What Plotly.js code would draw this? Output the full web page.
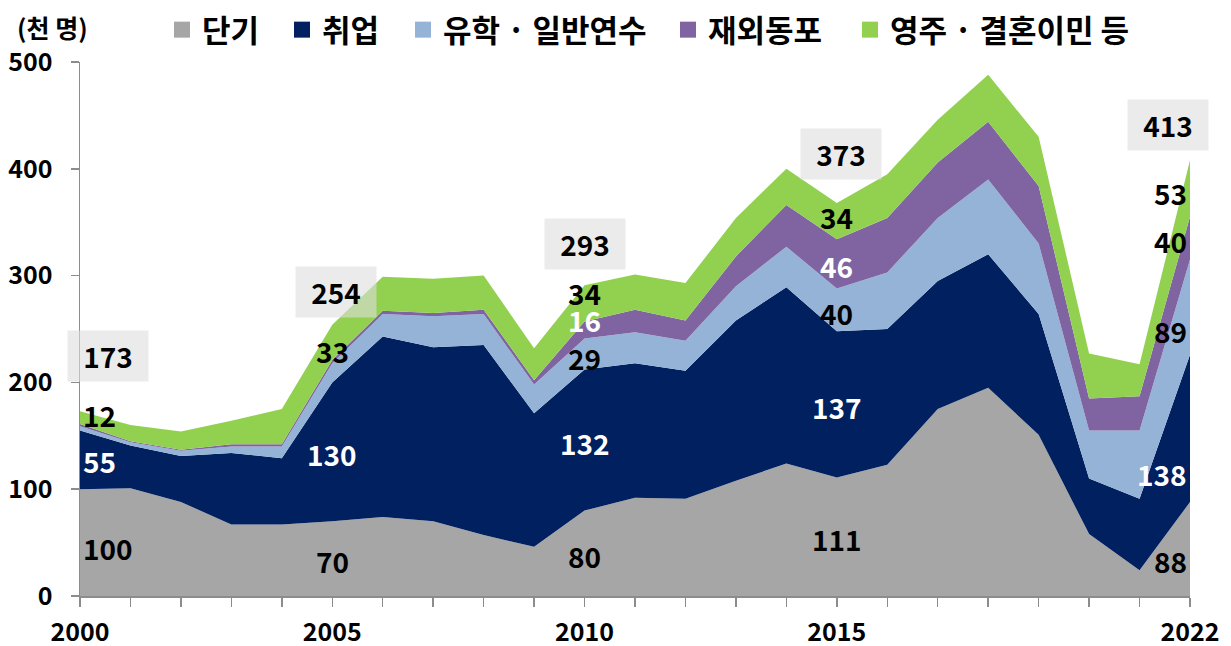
<!DOCTYPE html>
<html>
<head>
<meta charset="utf-8">
<script src="https://cdn.plot.ly/plotly-3.0.1.min.js"></script>
<style>html,body{margin:0;padding:0;background:#fff;}#chart{width:1231px;height:646px;}</style>
</head>
<body>
<div id="chart"></div>
<script>
// ---- data (천 명) ----
var years = [2000,2001,2002,2003,2004,2005,2006,2007,2008,2009,2010,2011,2012,2013,2014,2015,2016,2017,2018,2019,2020,2021,2022];
var shortTerm = [100,101,88,67,67,70,74,70,57,46,80,92,91,108,124,111,123,175,195,151,58,24,88];
var employment = [55,40,43,67,62,130,169,163,178,125,132,126,120,150,165,137,127,120,125,113,52,67,138];
var study = [4,3,5,6,11,18,21,29,29,27,29,29,28,32,38,40,53,59,70,66,45,64,89];
var overseasKorean = [2,1,1,2,2,3,3,3,4,4,16,21,19,28,39,46,51,52,54,54,30,32,40];
var permanent = [12,15,17,22,33,33,32,32,32,30,34,33,35,36,34,34,41,40,44,46,42,30,53];
var seriesNames = ['단기','취업','유학 · 일반연수','재외동포','영주 · 결혼이민 등'];
var labelYears = [2000,2005,2010,2015,2022];
var totalLabels = [173,254,293,373,413];
var xTickLabels = ['2000','2005','2010','2015','2022'];

// ---- styles / positions ----
var seriesValues = [shortTerm, employment, study, overseasKorean, permanent];
var colors = ['#a6a6a6','#002060','#95b3d7','#8064a2','#92d050'];
var FONT = '"Noto Sans CJK KR", "Noto Sans", sans-serif';
// label vertical positions (data units) per labelled year: [series0..4], total box
var labelPos = {
  2000: {y:[45,126,null,null,169.5], ty:225, anchor:'left', shift:2, boxShift:28, show:[1,1,0,0,1]},
  2005: {y:[33,133,null,null,229], ty:285, anchor:'center', shift:0, boxShift:4, show:[1,1,0,0,1]},
  2010: {y:[37.5,143,223,258,284], ty:330, anchor:'center', shift:0, boxShift:0, show:[1,1,1,1,1]},
  2015: {y:[53.4,177,265,309,355], ty:414, anchor:'center', shift:0, boxShift:4, show:[1,1,1,1,1]},
  2022: {y:[33,114,248,332,377], ty:441, anchor:'right', shift:-2, boxShift:-22, show:[1,1,1,1,1]}
};
var whiteLabel = function(si, yr){ return si === 1 || (si === 3 && (yr === 2010 || yr === 2015)); };

var traces = [];
seriesValues.forEach(function(vals, i){
  traces.push({
    type:'scatter', x:years, y:vals, stackgroup:'one', mode:'none',
    fill: i === 0 ? 'tozeroy' : 'tonexty',
    fillcolor: colors[i], line:{width:0, color:colors[i]},
    name: seriesNames[i], showlegend:false, hoverinfo:'skip'
  });
});
// legend entries (one legend each for exact placement)
var legendCenters = [182, 302, 423, 688, 870];
var legendKeys = ['legend','legend2','legend3','legend4','legend5'];
seriesNames.forEach(function(n, i){
  traces.push({
    type:'scatter', x:[null], y:[null], mode:'markers', name:n,
    marker:{symbol:'square', size:16, color:colors[i]},
    legend: legendKeys[i], showlegend:true, hoverinfo:'skip'
  });
});

var plotL = 80, plotR = 1190, plotT = 62, plotB = 596;
var pw = plotR - plotL, ph = plotB - plotT;
function px2paperX(px){ return (px - plotL)/pw; }
function px2paperY(py){ return (plotB - py)/ph; }

var annotations = [];
annotations.push({
  xref:'paper', yref:'paper', x:px2paperX(15), y:px2paperY(27), xanchor:'left', yanchor:'middle',
  text:'(천 명)', showarrow:false, font:{family:FONT, size:25, color:'#000', weight:'bold'}
});
labelYears.forEach(function(yr, k){
  var idx = years.indexOf(yr);
  var p = labelPos[yr];
  seriesValues.forEach(function(vals, si){
    if (!p.show[si]) return;
    annotations.push({
      x: yr, y: p.y[si], xref:'x', yref:'y', xanchor:p.anchor, yanchor:'middle', xshift:p.shift,
      text: String(vals[idx]), showarrow:false, borderpad:0,
      font:{family:FONT, size:28, color: whiteLabel(si, yr) ? '#ffffff' : '#000000', weight:'bold'}
    });
  });
  annotations.push({
    x: yr, y: p.ty, xref:'x', yref:'y', xanchor:'center', yanchor:'middle', xshift:p.boxShift,
    text: String(totalLabels[k]), showarrow:false, width:80, height:50, align:'center', valign:'middle',
    bgcolor:'rgba(222,222,222,0.6)', borderpad:0,
    font:{family:FONT, size:28, color:'#000000', weight:'bold'}
  });
});

var tickText = years.map(function(y){ var i = labelYears.indexOf(y); return i >= 0 ? xTickLabels[i] : ''; });

var layout = {
  width:1231, height:646,
  margin:{l:plotL, r:1231-plotR, t:plotT, b:646-plotB, pad:0, autoexpand:false},
  paper_bgcolor:'#ffffff', plot_bgcolor:'#ffffff',
  font:{family:FONT, color:'#000'},
  showlegend:true,
  xaxis:{
    range:[2000,2022], tickmode:'array', tickvals:years, ticktext:tickText,
    ticks:'outside', ticklen:9, tickwidth:1.5, tickcolor:'#8c8c8c',
    showline:true, linecolor:'#8c8c8c', linewidth:1.5, showgrid:false, zeroline:false, automargin:false,
    tickfont:{family:FONT, size:25, color:'#000', weight:'bold'}, ticklabelstandoff:4, fixedrange:true
  },
  yaxis:{
    range:[0,500], tickmode:'linear', tick0:0, dtick:100,
    ticks:'outside', ticklen:8, tickwidth:1.5, tickcolor:'#8c8c8c',
    showline:true, linecolor:'#8c8c8c', linewidth:1.5, showgrid:false, zeroline:false, automargin:false,
    tickfont:{family:FONT, size:25, color:'#000', weight:'bold'}, ticklabelstandoff:13, fixedrange:true
  },
  annotations: annotations
};
legendKeys.forEach(function(key, i){
  layout[key] = {
    orientation:'h', x:px2paperX(legendCenters[i] - 20), y:px2paperY(30), xanchor:'left', yanchor:'middle',
    bgcolor:'rgba(0,0,0,0)', borderwidth:0,
    font:{family:FONT, size:31, color:'#000', weight:'bold'}
  };
});

Plotly.newPlot('chart', traces, layout, {displayModeBar:false, staticPlot:true});
</script>
</body>
</html>
